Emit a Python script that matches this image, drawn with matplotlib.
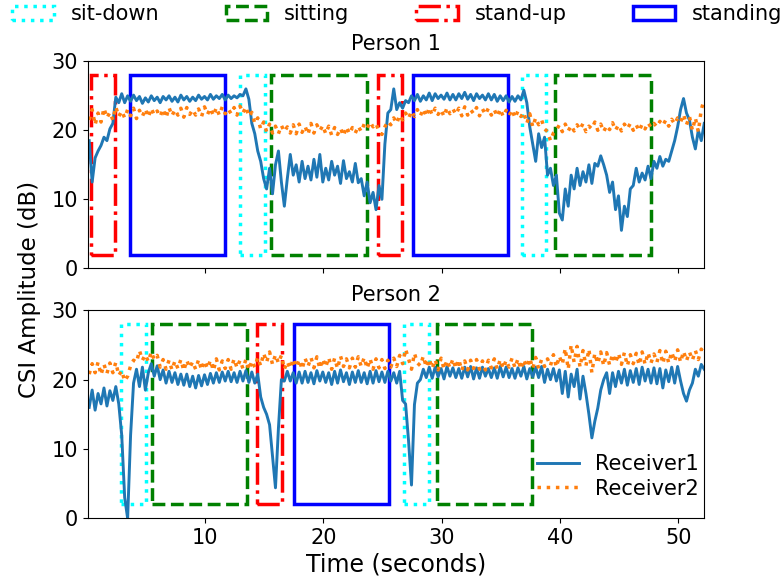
import numpy as np
import matplotlib.pyplot as plt
import matplotlib.patches as mpatches

# activity boxes (name, start s, end s)
p1_acts = [("stand-up", 0.36, 2.4), ("standing", 3.66, 11.69), ("sit-down", 12.96, 15.07),
           ("sitting", 15.58, 23.67), ("stand-up", 24.6, 26.68), ("standing", 27.6, 35.64),
           ("sit-down", 36.77, 38.83), ("sitting", 39.59, 47.67)]
p2_acts = [("sit-down", 2.87, 5.01), ("sitting", 5.55, 13.58), ("stand-up", 14.42, 16.48),
           ("standing", 17.55, 25.58), ("sit-down", 26.82, 28.96), ("sitting", 29.58, 37.6)]

# CSI amplitude (dB), 4 samples per second from 0.2 s to 52.2 s
p1_rx1 = [
    18.5, 12.5, 16.0, 17.0,  17.8, 19.0, 18.5, 20.2,  21.0, 24.8, 24.0, 25.3,  24.0, 25.0, 24.2, 25.1,
    24.3, 24.9, 23.9, 24.7,  24.1, 25.0, 24.3, 24.8,  24.0, 24.9, 24.4, 25.0,  24.2, 24.8, 24.1, 25.1,
    24.4, 24.9, 24.2, 24.8,  24.3, 25.1, 24.5, 24.9,  24.4, 25.2, 24.5, 25.0,  24.6, 25.2, 24.4, 25.1,
    24.6, 25.0, 24.7, 25.2,  25.0, 26.0, 24.5, 21.0,  19.5, 17.0, 15.5, 13.0,  11.5, 14.5, 10.8, 15.0,
    17.0, 12.5, 9.0, 13.0,   16.5, 13.5, 15.0, 12.5,  15.5, 13.0, 14.8, 12.8,  15.8, 13.2, 16.5, 12.5,
    14.5, 12.8, 15.5, 13.5,  14.8, 12.3, 15.6, 13.0,  14.0, 12.5, 15.2, 12.4,  13.0, 10.5, 12.5, 9.5,
    11.0, 8.5, 12.0, 10.0,   18.0, 22.5, 23.0, 26.0,  23.0, 24.0, 23.2, 24.3,  24.0, 25.0, 24.3, 25.2,
    24.2, 25.0, 24.4, 25.4,  24.3, 25.3, 24.6, 25.1,  24.5, 25.4, 24.4, 25.2,  24.4, 25.3, 24.6, 25.5,
    24.5, 25.2, 24.3, 25.3,  24.6, 25.1, 24.4, 25.3,  24.4, 25.2, 24.2, 25.0,  24.3, 25.0, 24.1, 24.9,
    24.2, 25.0, 24.4, 25.8,  24.0, 20.5, 18.0, 15.5,  19.5, 17.5, 19.0, 13.5,  14.5, 12.0, 13.5, 8.0,
    7.0, 11.5, 9.0, 13.5,    11.5, 14.5, 12.0, 14.0,  12.5, 15.0, 12.3, 15.2,  14.8, 16.3, 15.0, 13.5,
    11.0, 12.5, 8.5, 10.5,   5.5, 9.0, 7.5, 11.5,     12.0, 14.5, 12.5, 13.8,  12.8, 14.8, 13.0, 15.5,
    14.5, 16.2, 14.8, 15.8,  15.5, 17.0, 18.5, 20.5,  23.0, 24.6, 22.5, 21.5,  19.0, 17.3, 20.0, 18.5,
    21.0]
p1_rx2 = [
    21.5, 23.0, 20.8, 22.5,  21.2, 23.2, 21.8, 22.6,  21.5, 23.4, 22.0, 22.8,  21.8, 23.0, 22.1, 23.2,
    21.7, 22.9, 22.0, 23.1,  21.9, 23.2, 22.2, 22.8,  22.0, 23.1, 21.8, 23.3,  22.1, 23.0, 22.2, 23.2,
    21.9, 23.3, 22.3, 23.0,  22.2, 23.1, 22.0, 23.4,  22.3, 23.2, 22.1, 23.3,  22.2, 23.4, 22.4, 23.1,
    22.4, 23.3, 22.2, 23.5,  22.5, 23.4, 22.0, 22.6,  21.0, 21.8, 20.2, 21.2,  19.8, 20.9, 19.6, 20.6,
    19.5, 20.7, 19.8, 20.5,  19.6, 20.8, 19.5, 20.9,  19.7, 20.6, 19.4, 21.0,  19.6, 20.8, 19.9, 20.7,
    19.5, 20.6, 19.3, 20.4,  19.4, 20.3, 19.2, 20.5,  19.5, 20.4, 19.6, 20.6,  19.8, 20.9, 20.3, 21.2,
    20.5, 21.0, 19.8, 19.4,  20.5, 21.3, 20.8, 21.8,  21.0, 22.2, 21.5, 22.5,  21.7, 22.8, 22.0, 23.0,
    22.1, 23.1, 22.0, 23.3,  22.2, 23.2, 22.3, 23.0,  22.0, 23.3, 22.4, 23.1,  22.3, 23.2, 22.1, 23.4,
    22.2, 23.0, 22.4, 23.3,  22.1, 23.1, 22.3, 23.2,  22.2, 23.0, 22.0, 23.1,  22.0, 22.9, 22.1, 23.0,
    21.8, 22.8, 22.0, 22.6,  21.0, 22.4, 20.5, 21.8,  20.8, 21.5, 20.2, 19.8,  18.5, 19.6, 20.0, 20.8,
    19.8, 20.9, 19.9, 20.7,  19.9, 20.8, 20.1, 21.0,  19.8, 20.6, 20.2, 21.2,  20.0, 20.9, 19.8, 20.7,
    20.1, 21.1, 20.0, 20.8,  19.9, 20.9, 20.2, 21.0,  20.0, 20.8, 19.9, 20.9,  20.2, 21.1, 20.4, 21.0,
    20.5, 21.3, 20.7, 21.5,  20.6, 21.6, 20.9, 21.8,  21.2, 22.3, 20.8, 22.0,  20.0, 21.8, 19.8, 23.0,
    24.5]
p2_rx1 = [
    16.0, 18.5, 15.6, 18.0,  16.5, 18.8, 16.2, 18.4,  17.0, 19.0, 16.5, 12.0,  3.0, 0.0, 12.0, 19.5,
    21.5, 19.0, 21.8, 18.5,  21.0, 22.3, 20.5, 22.0,  20.0, 21.4, 19.5, 21.2,  19.6, 21.0, 19.3, 20.8,
    19.2, 20.8, 19.0, 20.5,  18.8, 20.6, 19.1, 20.7,  19.3, 20.9, 19.5, 21.0,  19.6, 21.1, 19.8, 21.2,
    19.7, 21.0, 19.6, 21.2,  19.8, 21.3, 19.6, 21.1,  19.5, 20.8, 17.5, 16.0,  15.0, 13.5, 9.0, 4.4,
    13.0, 20.0, 19.8, 21.2,  19.8, 21.0, 19.5, 21.1,  19.5, 21.2, 19.6, 21.0,  19.4, 21.3, 19.8, 21.1,
    19.6, 21.0, 19.3, 21.2,  19.5, 21.4, 19.7, 21.0,  19.3, 21.1, 19.6, 21.3,  19.6, 21.0, 19.4, 21.2,
    19.5, 21.3, 19.7, 21.1,  19.6, 21.2, 19.8, 21.0,  19.5, 21.2, 17.0, 16.5,  11.2, 4.8, 16.4, 19.5,
    20.0, 21.5, 20.3, 21.8,  20.2, 21.8, 20.4, 21.6,  20.1, 21.9, 20.5, 21.7,  20.3, 21.6, 20.2, 21.8,
    20.4, 21.9, 20.1, 21.7,  20.2, 21.8, 20.5, 21.6,  20.3, 21.7, 20.2, 21.9,  20.4, 21.8, 20.3, 21.6,
    20.2, 21.7, 20.5, 21.9,  20.1, 21.6, 20.4, 21.8,  20.3, 21.9, 19.6, 21.5,  20.0, 21.6, 19.8, 21.4,
    18.0, 21.2, 17.5, 20.8,  19.0, 21.5, 17.2, 20.5,  18.0, 15.0, 11.6, 14.0,  15.9, 18.5, 20.0, 21.0,
    18.0, 21.0, 19.0, 21.2,  19.5, 21.5, 19.2, 21.3,  19.6, 21.6, 19.3, 21.8,  19.8, 21.5, 19.5, 21.7,
    19.4, 21.6, 18.8, 21.4,  19.7, 21.8, 19.5, 21.9,  19.8, 18.0, 16.9, 18.5,  19.5, 21.5, 20.5, 22.2,
    21.5]
p2_rx2 = [
    20.8, 22.3, 21.0, 22.5,  20.7, 22.2, 20.9, 22.4,  21.0, 22.5, 20.6, 21.3,  19.8, 20.5, 22.0, 22.8,
    22.5, 24.2, 22.8, 23.6,  22.6, 24.0, 22.9, 23.5,  21.8, 22.9, 21.5, 22.8,  21.4, 22.7, 21.6, 22.9,
    21.3, 22.8, 21.7, 22.6,  21.5, 22.9, 21.4, 22.7,  21.6, 22.8, 21.3, 23.0,  21.4, 22.7, 21.6, 22.9,
    21.5, 23.0, 21.7, 22.8,  21.6, 22.9, 21.4, 22.7,  21.8, 23.2, 22.0, 23.8,  22.5, 24.0, 22.2, 23.6,
    22.4, 23.5, 21.5, 22.6,  21.6, 23.0, 21.8, 22.9,  21.5, 23.1, 21.9, 23.2,  21.7, 23.3, 21.6, 23.0,
    21.8, 23.2, 21.5, 23.1,  21.6, 23.4, 21.9, 23.0,  21.7, 23.1, 21.8, 23.3,  21.9, 23.2, 21.6, 23.0,
    21.5, 23.0, 21.7, 22.9,  21.6, 22.8, 21.8, 23.1,  21.9, 23.5, 22.3, 24.4,  23.0, 21.5, 23.8, 22.4,
    22.0, 23.4, 21.8, 23.0,  21.6, 22.9, 21.4, 23.1,  21.5, 22.8, 21.7, 23.0,  21.6, 22.9, 21.3, 22.7,
    21.4, 22.8, 21.6, 22.9,  21.5, 22.7, 21.4, 22.8,  21.7, 23.0, 21.5, 22.9,  21.6, 22.8, 21.8, 23.1,
    21.7, 23.0, 21.5, 22.9,  21.8, 23.1, 21.6, 23.2,  21.6, 22.9, 21.9, 23.0,  22.0, 23.6, 21.8, 23.4,
    22.2, 24.5, 21.5, 25.0,  22.5, 24.8, 21.8, 24.2,  22.0, 24.4, 21.0, 23.8,  22.3, 24.0, 22.0, 23.9,
    22.1, 23.7, 22.4, 23.8,  22.2, 23.9, 22.0, 23.6,  22.3, 23.8, 22.1, 24.0,  22.2, 23.9, 22.4, 23.7,
    22.5, 24.2, 22.3, 24.1,  22.4, 24.0, 22.6, 24.3,  22.5, 24.1, 22.7, 24.0,  22.8, 24.2, 22.9, 24.4,
    23.8]

styles = {"sit-down": ("cyan", ":"), "sitting": ("green", "--"),
          "stand-up": ("red", "-."), "standing": ("blue", "-")}

plt.rcParams['font.size'] = 15

fig = plt.figure(figsize=(7.83, 5.81), dpi=100)
ax1 = fig.add_axes([0.1124, 0.5382, 0.787, 0.3563])
ax2 = fig.add_axes([0.1124, 0.1079, 0.787, 0.358])


def draw(ax, acts, rx1, rx2, title, pad):
    for name, x0, x1 in acts:
        col, ls = styles[name]
        ax.add_patch(mpatches.Rectangle((x0, 2), x1 - x0, 26, fill=False,
                                        edgecolor=col, linestyle=ls, lw=2.5))
    ax.plot(np.linspace(0.2, 52.2, len(rx1)), rx1, color='#1f77b4', lw=2.1, label='Receiver1')
    ax.plot(np.linspace(0.2, 52.2, len(rx2)), rx2, color='#ff7f0e', lw=2.5, ls=':', label='Receiver2')
    ax.set_xlim(0.1, 52.2)
    ax.set_ylim(0, 30)
    ax.set_yticks([0, 10, 20, 30])
    ax.set_xticks([10, 20, 30, 40, 50])
    ax.set_title(title, fontsize=15, pad=pad)


draw(ax1, p1_acts, p1_rx1, p1_rx2, "Person 1", 8)
draw(ax2, p2_acts, p2_rx1, p2_rx2, "Person 2", 7)
ax1.set_xticklabels([])

ax2.legend(loc='lower right', bbox_to_anchor=(1.005, 0.055), borderaxespad=0,
           frameon=False, labelspacing=0.2, fontsize=15)

handles = [mpatches.Patch(facecolor='none', edgecolor=styles[n][0], linestyle=styles[n][1],
                          lw=2.5, label=n) for n in ["sit-down", "sitting", "stand-up", "standing"]]
fig.legend(handles=handles, loc='upper center', bbox_to_anchor=(0.507, 1.007), ncol=4,
           frameon=False, borderaxespad=0, columnspacing=3.2, handlelength=2.0, fontsize=15)

fig.text(0.038, 0.501, "CSI Amplitude (dB)", rotation=90, ha='center', va='center', fontsize=16.5)
fig.text(0.506, 0.028, "Time (seconds)", ha='center', va='center', fontsize=17)

fig.savefig('out.png', dpi=100)
